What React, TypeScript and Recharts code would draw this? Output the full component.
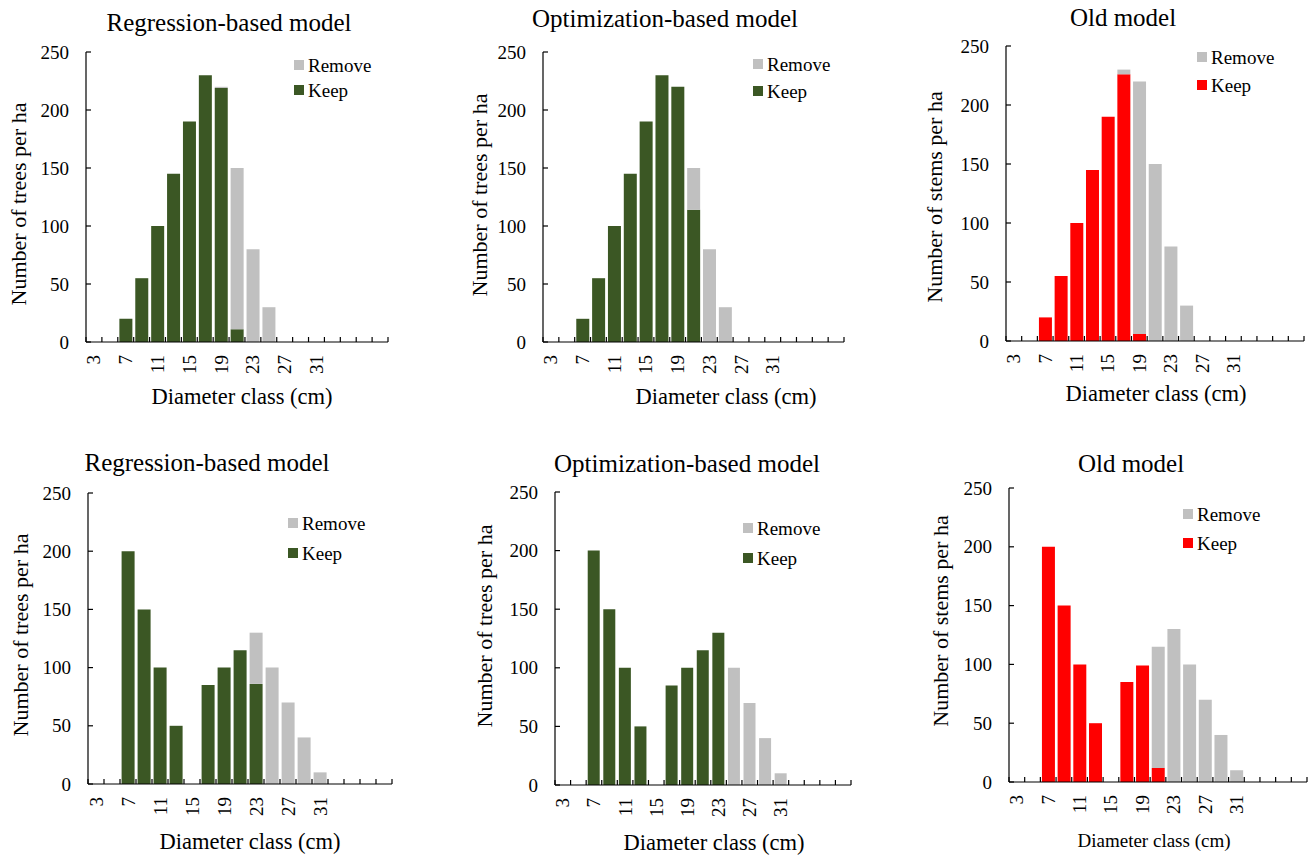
import React from "react";
import { BarChart, Bar, XAxis, YAxis, Legend } from "recharts";

// diameter classes (cm); only some of them get a printed label
const DIAMETERS = [3, 5, 7, 9, 11, 13, 15, 17, 19, 21, 23, 25, 27, 29, 31, 33, 35, 37, 39];
const TICK_LABELS = [3, 7, 11, 15, 19, 23, 27, 31];
const Y_TICKS = [0, 50, 100, 150, 200, 250];

// top row
const REG_TOP_KEEP = [0, 0, 20, 55, 100, 145, 190, 230, 219, 11, 0, 0, 0, 0, 0, 0, 0, 0, 0];
const REG_TOP_REMOVE = [0, 0, 0, 0, 0, 0, 0, 0, 1, 139, 80, 30, 0, 0, 0, 0, 0, 0, 0];
const OPT_TOP_KEEP = [0, 0, 20, 55, 100, 145, 190, 230, 220, 114, 0, 0, 0, 0, 0, 0, 0, 0, 0];
const OPT_TOP_REMOVE = [0, 0, 0, 0, 0, 0, 0, 0, 0, 36, 80, 30, 0, 0, 0, 0, 0, 0, 0];
const OLD_TOP_KEEP = [0, 0, 20, 55, 100, 145, 190, 226, 6, 0, 0, 0, 0, 0, 0, 0, 0, 0, 0];
const OLD_TOP_REMOVE = [0, 0, 0, 0, 0, 0, 0, 4, 214, 150, 80, 30, 0, 0, 0, 0, 0, 0, 0];

// bottom row
const REG_BOT_KEEP = [0, 0, 200, 150, 100, 50, 0, 85, 100, 115, 86, 0, 0, 0, 0, 0, 0, 0, 0];
const REG_BOT_REMOVE = [0, 0, 0, 0, 0, 0, 0, 0, 0, 0, 44, 100, 70, 40, 10, 0, 0, 0, 0];
const OPT_BOT_KEEP = [0, 0, 200, 150, 100, 50, 0, 85, 100, 115, 130, 0, 0, 0, 0, 0, 0, 0, 0];
const OPT_BOT_REMOVE = [0, 0, 0, 0, 0, 0, 0, 0, 0, 0, 0, 100, 70, 40, 10, 0, 0, 0, 0];
const OLD_BOT_KEEP = [0, 0, 200, 150, 100, 50, 0, 85, 99, 12, 0, 0, 0, 0, 0, 0, 0, 0, 0];
const OLD_BOT_REMOVE = [0, 0, 0, 0, 0, 0, 0, 0, 0, 103, 130, 100, 70, 40, 10, 0, 0, 0, 0];

const GREEN = "#3b5724";
const RED = "#ff0000";
const GREY = "#c0c0c0";
const FONT = '"Liberation Serif", "Times New Roman", serif';

// space around the plot area inside each chart
const ML = 40;
const YW = 50;
const MT = 40;
const MR = 20;
const MB = 30;
const XH = 50;

interface PanelProps {
  title: string;
  yLabel: string;
  keep: number[];
  remove: number[];
  keepColor: string;
  box: [number, number, number, number]; // plot x0, x1, yTop, yBottom on the page
  titleAt: [number, number];
  yLabelAt: [number, number];
  xLabelAt: [number, number];
  xLabelSize?: number;
  legendAt: [number, number];
  legendGap: number;
}

function Panel(p: PanelProps) {
  const [x0, x1, yT, yB] = p.box;
  const left = x0 - ML - YW;
  const top = yT - MT;
  const width = x1 - x0 + ML + YW + MR;
  const height = yB - yT + MT + MB + XH;
  const band = (x1 - x0) / DIAMETERS.length;

  const rows = DIAMETERS.map((d, i) => ({ d, keep: p.keep[i], remove: p.remove[i] }));

  const xTick = (props: any) => {
    const { x, y, index, payload } = props;
    const shown = TICK_LABELS.includes(payload.value);
    const bx = x - band / 2;
    return (
      <g>
        <line x1={bx} x2={bx} y1={y} y2={y - 5} stroke="#000" strokeWidth={1.2} />
        {index === DIAMETERS.length - 1 && (
          <line x1={x + band / 2} x2={x + band / 2} y1={y} y2={y - 5} stroke="#000" strokeWidth={1.2} />
        )}
        {shown && (
          <text
            x={x}
            y={y + 13}
            transform={`rotate(-90, ${x}, ${y + 13})`}
            textAnchor="end"
            dominantBaseline="central"
            fontFamily={FONT}
            fontSize={19}
            fill="#000"
          >
            {payload.value}
          </text>
        )}
      </g>
    );
  };

  const yTick = (props: any) => {
    const { x, y, payload } = props;
    return (
      <g>
        <line x1={x} x2={x + 5} y1={y} y2={y} stroke="#000" strokeWidth={1.2} />
        <text x={x - 17} y={y} textAnchor="end" dominantBaseline="central" fontFamily={FONT} fontSize={19} fill="#000">
          {payload.value}
        </text>
      </g>
    );
  };

  const legend = () => (
    <div style={{ fontFamily: FONT, fontSize: 19, color: "#000", lineHeight: 1 }}>
      {[
        ["Remove", GREY],
        ["Keep", p.keepColor],
      ].map(([name, color]) => (
        <div key={name} style={{ display: "flex", alignItems: "center", height: p.legendGap }}>
          <span style={{ width: 10, height: 10, background: color, marginRight: 4, display: "inline-block" }} />
          <span>{name}</span>
        </div>
      ))}
    </div>
  );

  const text = { position: "absolute" as const, fontFamily: FONT, color: "#000", whiteSpace: "nowrap" as const, lineHeight: 1 };

  return (
    <>
      <div style={{ position: "absolute", left, top }}>
        <BarChart
          width={width}
          height={height}
          data={rows}
          margin={{ top: MT, right: MR, bottom: MB, left: ML }}
          barCategoryGap="10%"
        >
          <XAxis
            dataKey="d"
            interval={0}
            height={XH}
            tickSize={0}
            tickMargin={0}
            tickLine={false}
            axisLine={{ stroke: "#000", strokeWidth: 1.2 }}
            tick={xTick}
          />
          <YAxis
            domain={[0, 250]}
            ticks={Y_TICKS}
            width={YW}
            tickSize={0}
            tickMargin={0}
            tickLine={false}
            axisLine={{ stroke: "#000", strokeWidth: 1.2 }}
            tick={yTick}
          />
          <Legend
            layout="vertical"
            align="center"
            verticalAlign="middle"
            content={legend}
            wrapperStyle={{ left: p.legendAt[0] - left, top: p.legendAt[1] - top - p.legendGap / 2, width: "auto" }}
          />
          <Bar dataKey="keep" name="Keep" stackId="a" fill={p.keepColor} isAnimationActive={false} />
          <Bar dataKey="remove" name="Remove" stackId="a" fill={GREY} isAnimationActive={false} />
        </BarChart>
      </div>
      <div style={{ ...text, left: p.titleAt[0], top: p.titleAt[1], fontSize: 25, transform: "translate(-50%, -50%)" }}>
        {p.title}
      </div>
      <div
        style={{
          ...text,
          left: p.yLabelAt[0],
          top: p.yLabelAt[1],
          fontSize: 22,
          transform: "translate(-50%, -50%) rotate(-90deg)",
        }}
      >
        {p.yLabel}
      </div>
      <div
        style={{
          ...text,
          left: p.xLabelAt[0],
          top: p.xLabelAt[1],
          fontSize: p.xLabelSize ?? 22.5,
          transform: "translate(-50%, -50%)",
        }}
      >
        Diameter class (cm)
      </div>
    </>
  );
}

export default function App() {
  return (
    <div style={{ position: "absolute", left: 0, top: 0, width: 1313, height: 857, background: "#fff", overflow: "hidden" }}>
      <Panel
        title="Regression-based model"
        yLabel="Number of trees per ha"
        keep={REG_TOP_KEEP}
        remove={REG_TOP_REMOVE}
        keepColor={GREEN}
        box={[86, 388, 52, 342]}
        titleAt={[229, 22]}
        yLabelAt={[19, 204]}
        xLabelAt={[242, 397]}
        legendAt={[294, 65]}
        legendGap={25}
      />
      <Panel
        title="Optimization-based model"
        yLabel="Number of trees per ha"
        keep={OPT_TOP_KEEP}
        remove={OPT_TOP_REMOVE}
        keepColor={GREEN}
        box={[543, 844, 52, 342]}
        titleAt={[665, 18]}
        yLabelAt={[480, 195]}
        xLabelAt={[726, 397]}
        legendAt={[753, 64]}
        legendGap={27}
      />
      <Panel
        title="Old model"
        yLabel="Number of stems per ha"
        keep={OLD_TOP_KEEP}
        remove={OLD_TOP_REMOVE}
        keepColor={RED}
        box={[1006, 1304, 46, 341]}
        titleAt={[1123, 17]}
        yLabelAt={[935, 197]}
        xLabelAt={[1156, 394]}
        legendAt={[1197, 57]}
        legendGap={28}
      />
      <Panel
        title="Regression-based model"
        yLabel="Number of trees per ha"
        keep={REG_BOT_KEEP}
        remove={REG_BOT_REMOVE}
        keepColor={GREEN}
        box={[88, 392, 493, 784]}
        titleAt={[207, 462]}
        yLabelAt={[21, 635]}
        xLabelAt={[250, 842]}
        legendAt={[288, 523]}
        legendGap={30}
      />
      <Panel
        title="Optimization-based model"
        yLabel="Number of trees per ha"
        keep={OPT_BOT_KEEP}
        remove={OPT_BOT_REMOVE}
        keepColor={GREEN}
        box={[555, 851, 492, 785]}
        titleAt={[687, 463]}
        yLabelAt={[485, 626]}
        xLabelAt={[714, 843]}
        legendAt={[743, 528]}
        legendGap={30}
      />
      <Panel
        title="Old model"
        yLabel="Number of stems per ha"
        keep={OLD_BOT_KEEP}
        remove={OLD_BOT_REMOVE}
        keepColor={RED}
        box={[1009, 1307, 488, 782]}
        titleAt={[1131, 463]}
        yLabelAt={[941, 621]}
        xLabelAt={[1154, 840]}
        xLabelSize={19}
        legendAt={[1183, 514]}
        legendGap={29}
      />
    </div>
  );
}
